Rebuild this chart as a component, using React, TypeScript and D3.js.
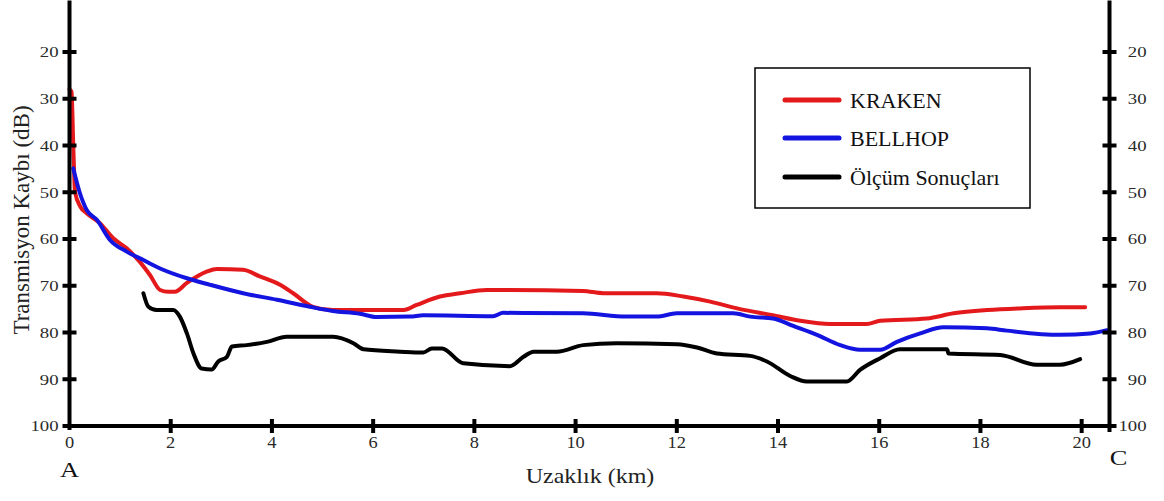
import React from "react";
import * as d3 from "d3";

const yTicks = [20, 30, 40, 50, 60, 70, 80, 90, 100];
const xTicks = [0, 2, 4, 6, 8, 10, 12, 14, 16, 18, 20];
const seriesNames = ["KRAKEN", "BELLHOP", "Ölçüm Sonuçları"];
const seriesColors = ["#e3191b", "#1414e0", "#000000"];

const krakenKm = [0.0, 0.04, 0.075, 0.11, 0.21, 0.34, 0.6, 0.86, 1.13, 1.39, 1.59, 1.79, 1.95, 2.08, 2.32, 2.71, 2.91, 3.43, 3.76, 4.16, 4.42, 4.81, 5.2, 5.74, 6.6, 6.86, 7.32, 7.72, 8.24, 10.15, 10.55, 11.6, 12.13, 12.66, 13.25, 13.9, 14.44, 15.03, 15.75, 16.02, 16.94, 17.47, 18.13, 18.84, 19.57, 20.07];
const krakenDb = [28, 28.5, 40.3, 50, 53, 54.5, 56.6, 59.8, 62, 64.9, 67.7, 70.9, 71.3, 71.3, 69.4, 67, 66.4, 66.6, 68, 69.8, 71.6, 74.5, 75.2, 75.2, 75.2, 74.1, 72.3, 71.6, 70.9, 71.1, 71.6, 71.6, 72.3, 73.4, 75.0, 76.3, 77.5, 78.2, 78.2, 77.5, 77.0, 75.9, 75.2, 74.8, 74.6, 74.6];

const bellhopKm = [0.075, 0.2, 0.34, 0.54, 0.8, 1.13, 1.46, 1.79, 2.32, 2.78, 3.43, 4.1, 4.75, 5.2, 5.74, 6.07, 6.73, 6.99, 8.37, 8.57, 10.15, 11.0, 11.6, 12.0, 13.12, 13.45, 13.9, 14.3, 14.77, 15.23, 15.62, 16.02, 16.35, 16.81, 17.27, 18.13, 18.52, 19.57, 20.17, 20.5];
const bellhopDb = [44.9, 50, 53.8, 55.9, 60.2, 62.7, 64.5, 66.3, 68.4, 69.8, 71.6, 73.0, 74.5, 75.4, 76.0, 76.7, 76.6, 76.3, 76.5, 75.8, 75.9, 76.6, 76.6, 75.9, 75.9, 76.6, 77.0, 78.6, 80.5, 82.7, 83.7, 83.7, 82.0, 80.2, 78.9, 79.1, 79.6, 80.5, 80.2, 79.5];

const olcumKm = [1.46, 1.56, 1.72, 2.05, 2.18, 2.32, 2.45, 2.61, 2.81, 2.94, 3.11, 3.21, 3.5, 3.9, 4.29, 5.21, 5.61, 5.81, 6.53, 6.99, 7.16, 7.36, 7.78, 8.7, 8.97, 9.17, 9.63, 10.15, 10.81, 12.0, 12.4, 12.79, 13.45, 13.78, 14.24, 14.57, 15.36, 15.62, 16.02, 16.41, 17.34, 17.37, 18.39, 19.11, 19.57, 19.97];
const olcumDb = [71.6, 74.5, 75.2, 75.2, 76.6, 80.2, 84.5, 87.7, 87.9, 86.2, 85.2, 83.0, 82.7, 82.0, 80.9, 80.9, 82.3, 83.6, 84.1, 84.3, 83.4, 83.4, 86.6, 87.2, 85.2, 84.1, 84.1, 82.7, 82.3, 82.5, 83.2, 84.5, 85.0, 86.2, 89.3, 90.5, 90.5, 88.0, 85.5, 83.6, 83.6, 84.5, 84.8, 86.9, 86.9, 85.7];

const FONT = "'Liberation Serif', 'Times New Roman', serif";

export default function App() {
  const x = d3.scaleLinear().domain([0, 20.55]).range([69.5, 1109.5]);
  const y = d3.scaleLinear().domain([10, 100]).range([5.25, 426]);

  const mk = (ks: number[], ds: number[]) => ks.map((k, i) => [k, ds[i]] as [number, number]);
  const line = d3
    .line<[number, number]>()
    .x((d) => x(d[0]))
    .y((d) => y(d[1]))
    .curve(d3.curveMonotoneX);

  const series = [mk(krakenKm, krakenDb), mk(bellhopKm, bellhopDb), mk(olcumKm, olcumDb)];

  const x0 = x(0);
  const x1 = x(20.55);
  const yb = y(100);

  const legendY = [100, 138, 177];

  return (
    <svg
      width={1164}
      height={501}
      style={{ position: "absolute", left: 0, top: 0, background: "#fff" }}
      fontFamily={FONT}
    >
      <rect x={0} y={0} width={1164} height={501} fill="#fff" />

      {/* data lines */}
      {series.map((s, i) => (
        <path
          key={i}
          d={line(s) || ""}
          fill="none"
          stroke={seriesColors[i]}
          strokeWidth={4}
          strokeLinejoin="round"
          strokeLinecap="round"
        />
      ))}

      {/* axes */}
      <line x1={x0} x2={x0} y1={y(9)} y2={yb + 4} stroke="#000" strokeWidth={4} />
      <line x1={x1} x2={x1} y1={y(9)} y2={yb + 6} stroke="#000" strokeWidth={4} />
      <line x1={x0 - 2} x2={x1 + 2} y1={yb} y2={yb} stroke="#000" strokeWidth={4} />

      {yTicks.map((t) => (
        <g key={"yt" + t}>
          <line x1={x0 - 7} x2={x0 + 7} y1={y(t)} y2={y(t)} stroke="#000" strokeWidth={4} />
          <line x1={x1 - 7} x2={x1 + 7} y1={y(t)} y2={y(t)} stroke="#000" strokeWidth={4} />
          <text
            transform={`translate(${x0 - 11},${y(t)}) scale(1.25,1)`}
            textAnchor="end"
            dy="0.35em"
            fontSize={15}
            fill="#2a2a2a"
          >
            {t}
          </text>
          <text
            transform={`translate(${x1 + 37},${y(t)}) scale(1.25,1)`}
            textAnchor="end"
            dy="0.35em"
            fontSize={15}
            fill="#2a2a2a"
          >
            {t}
          </text>
        </g>
      ))}

      {xTicks.map((t) => (
        <g key={"xt" + t}>
          {t > 0 && (
            <line x1={x(t)} x2={x(t)} y1={yb - 7} y2={yb + 7} stroke="#000" strokeWidth={4} />
          )}
          <text
            transform={`translate(${x(t)},${yb + 22}) scale(1.15,1)`}
            textAnchor="middle"
            fontSize={16}
            fill="#2a2a2a"
          >
            {t}
          </text>
        </g>
      ))}

      {/* axis titles */}
      <text
        transform={`translate(29,220) rotate(-90)`}
        textAnchor="middle"
        fontSize={23}
        fill="#222"
      >
        Transmisyon Kaybı (dB)
      </text>
      <text
        transform={`translate(590,483) scale(1.2,1)`}
        textAnchor="middle"
        fontSize={20}
        fill="#222"
      >
        Uzaklık (km)
      </text>
      <text transform={`translate(${x0},477) scale(1.2,1)`} textAnchor="middle" fontSize={22} fill="#111">
        A
      </text>
      <text transform={`translate(${x1 + 9},465) scale(1.2,1)`} textAnchor="middle" fontSize={22} fill="#111">
        C
      </text>

      {/* legend */}
      <rect x={755} y={68} width={275} height={140} fill="#fff" stroke="#000" strokeWidth={1.5} />
      {seriesNames.map((n, i) => (
        <g key={n}>
          <line
            x1={785}
            x2={839}
            y1={legendY[i]}
            y2={legendY[i]}
            stroke={seriesColors[i]}
            strokeWidth={5}
            strokeLinecap="round"
          />
          <text x={850} y={legendY[i] + 8} fontSize={22} fill="#111">
            {n}
          </text>
        </g>
      ))}
    </svg>
  );
}
